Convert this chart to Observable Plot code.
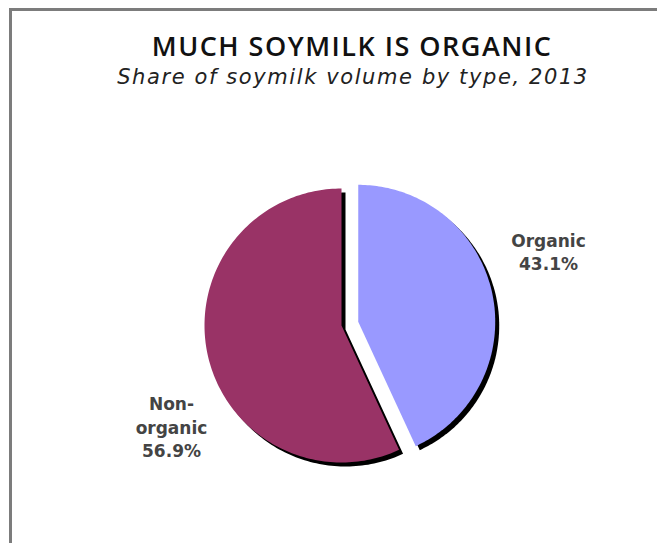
<!DOCTYPE html>
<html><head><meta charset="utf-8">
<script src="https://cdn.jsdelivr.net/npm/d3@7"></script>
<script src="https://cdn.jsdelivr.net/npm/@observablehq/plot@0.6"></script>
<style>
body{margin:0;background:#fff;}
#wrap{position:relative;width:657px;height:543px;overflow:hidden;background:#fff;}
#frame{position:absolute;left:9px;top:8px;width:700px;height:600px;border-left:3px solid #7c7c7c;border-top:3px solid #7c7c7c;}
#title{position:absolute;left:0;width:704px;top:27px;text-align:center;font:600 27px "Open Sans",sans-serif;letter-spacing:1.5px;color:#111;white-space:nowrap;}
#subtitle{position:absolute;left:0;width:706px;top:65px;text-align:center;font:italic 21px "DejaVu Sans",sans-serif;letter-spacing:1.6px;color:#222;white-space:nowrap;}
#chart{position:absolute;left:0;top:0;}
</style></head>
<body><div id="wrap"><div id="frame"></div><div id="chart"></div><div id="title">MUCH SOYMILK IS ORGANIC</div><div id="subtitle">Share of soymilk volume by type, 2013</div></div>
<script>
const categories = ["Organic", "Non-organic"];
const shares = [43.1, 56.9];
const labelTexts = ["Organic\n43.1%", "Non-\norganic\n56.9%"];
const colors = ["#9999ff", "#993366"];

const explode = [0.125, 0];
const arcs = d3.pie().sort(null).value(d => d)(shares);
const pts = [];
const labels = [];
arcs.forEach((a, i) => {
  const mid = (a.startAngle + a.endAngle) / 2;
  const ox = explode[i] * Math.sin(mid), oy = explode[i] * Math.cos(mid);
  const name = categories[i];
  pts.push({name, x: ox, y: oy});
  const N = 160;
  for (let k = 0; k <= N; k++) {
    const t = a.startAngle + (a.endAngle - a.startAngle) * k / N;
    pts.push({name, x: ox + Math.sin(t), y: oy + Math.cos(t)});
  }
  pts.push({name, x: ox, y: oy});
  labels.push({name, text: labelTexts[i], x: 1.45 * Math.sin(mid), y: 1.45 * Math.cos(mid)});
});

const R = 137, cx = 341, cy = 325, W = 657, H = 543;
const textStyle = {x: "x", y: "y", text: "text", fontSize: 17, fontWeight: "bold", lineHeight: 1.38, fill: "#444", fontFamily: "DejaVu Sans", textAnchor: "middle"};
const chart = Plot.plot({
  width: W, height: H,
  margin: 0,
  x: {type: "linear", domain: [-cx / R, (W - cx) / R], range: [0, W], axis: null},
  y: {type: "linear", domain: [-(H - cy) / R, cy / R], range: [H, 0], axis: null},
  color: {domain: categories, range: colors},
  style: {background: "transparent"},
  marks: [
    Plot.line(pts, {x: "x", y: "y", z: "name", fill: "#000", stroke: "none", dx: 4, dy: 4, curve: "linear"}),
    Plot.line(pts, {x: "x", y: "y", z: "name", fill: d => d.name, stroke: "none", curve: "linear"}),
    Plot.text(labels.filter(d => d.name === "Organic"), {...textStyle, dx: 13, dy: -32}),
    Plot.text(labels.filter(d => d.name === "Non-organic"), {...textStyle, dx: 24, dy: 58})
  ]
});
document.getElementById("chart").appendChild(chart);
</script>
</body></html>
